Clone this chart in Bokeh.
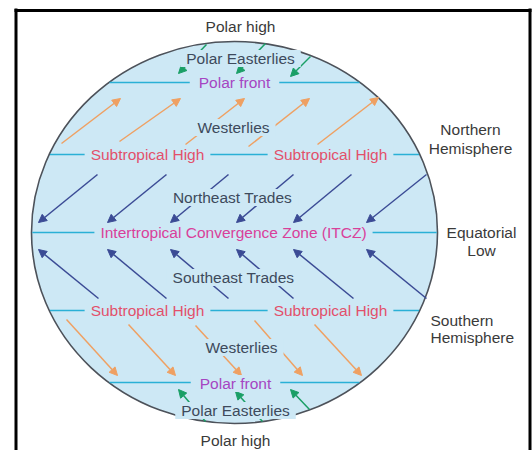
import numpy as np
from bokeh.plotting import figure
from bokeh.models import Range1d, Arrow, NormalHead, Label, ColumnDataSource
from bokeh.embed import file_html
from bokeh.resources import INLINE

W, H = 532, 450
X0, Y0 = 0, 0

# ---- globe geometry (pixel coordinates of the diagram) ----
globe_cx, globe_cy = 234, 232
globe_w, globe_h = 406, 382
lat_y = [82, 154, 232, 310, 382]          # polar front, subtropical high, ITCZ, ...

# ---- wind arrows: start (tail) -> end (head) ----
west_n_x0 = [61, 119, 185, 248, 317]
west_n_y0 = [143, 141, 144, 146, 144]
west_n_x1 = [120, 180, 244, 309, 378]
west_n_y1 = [98, 98, 98, 98, 97]

ne_x0 = [97, 166, 228, 293, 351, 426]
ne_y0 = [174, 174, 174, 174, 174, 174]
ne_x1 = [38, 107, 170, 236, 293, 366]
ne_y1 = [222, 222, 222, 222, 222, 222]

se_x0 = [98, 166, 228, 293, 353, 426]
se_y0 = [298, 298, 298, 298, 298, 298]
se_x1 = [38, 107, 170, 236, 293, 366]
se_y1 = [249, 249, 249, 249, 249, 249]

west_s_x0 = [66, 128, 195, 254, 314]
west_s_y0 = [319, 324, 325, 320, 324]
west_s_x1 = [117, 175, 241, 302, 361]
west_s_y1 = [375, 375, 375, 375, 375]

pe_n_x0 = [206, 265, 310]
pe_n_y0 = [44, 43, 56]
pe_n_x1 = [178, 236, 290]
pe_n_y1 = [73, 73, 76]

pe_s_x0 = [205, 262, 309]
pe_s_y0 = [421, 421, 409]
pe_s_x1 = [178, 235, 290]
pe_s_y1 = [389, 391, 389]

# ---- labels ----
DARK, SLATE, RED, MAG, PURP = "#3a3a3a", "#3d4a5c", "#e2506b", "#d9409a", "#a545c2"
label_text = ["Polar high", "Polar Easterlies", "Polar front", "Westerlies",
              "Subtropical High", "Subtropical High", "Northeast Trades",
              "Intertropical Convergence Zone (ITCZ)", "Southeast Trades",
              "Subtropical High", "Subtropical High", "Westerlies",
              "Polar front", "Polar Easterlies", "Polar high"]
label_x = [240, 240, 234, 233, 147, 330, 232, 233, 233, 147, 330, 241, 235, 235, 235]
label_y = [26, 58, 82, 127, 154, 154, 197, 232, 277, 310, 310, 347, 383, 410, 440]
label_color = [DARK, SLATE, PURP, SLATE, RED, RED, SLATE, MAG, SLATE, RED, RED,
               SLATE, PURP, SLATE, DARK]
label_bg = [False] + [True] * 13 + [False]
label_pad = [0, 6, 9, 6, 6, 6, 6, 6, 6, 6, 6, 6, 9, 6, 0]

side_text = ["Northern", "Hemisphere", "Equatorial", "Low", "Southern", "Hemisphere"]
side_x = [470, 470, 481, 481, 430, 430]
side_y = [129, 148, 232, 250, 320, 337]
side_align = ["center", "center", "center", "center", "left", "left"]

FILL = "#cde8f5"
CYAN = "#2ab0d6"
ORANGE = "#efa062"
NAVY = "#3b4b95"
GREEN = "#1a9f66"
FONT = "Liberation Sans"

p = figure(width=W, height=H, output_backend="svg", toolbar_location=None,
           x_range=Range1d(X0, X0 + W), y_range=Range1d(Y0 + H, Y0),
           min_border=0, outline_line_color=None)
p.axis.visible = False
p.grid.visible = False
p.background_fill_color = "white"
p.border_fill_color = "white"

# frame
p.segment(x0=[15.5, 14, 529.5], y0=[8, 10, 8], x1=[15.5, 531, 529.5], y1=[450, 10, 450],
          line_color="black", line_width=3)

# globe
p.ellipse(x=[globe_cx], y=[globe_cy], width=[globe_w], height=[globe_h],
          fill_color=FILL, line_color="#4d525a", line_width=1.6)

ly = np.array(lat_y, dtype=float)
hw = (globe_w / 2) * np.sqrt(np.clip(1 - ((ly - globe_cy) / (globe_h / 2)) ** 2, 0, 1)) - 0.8
p.segment(x0=globe_cx - hw, y0=ly, x1=globe_cx + hw, y1=ly, line_color=CYAN, line_width=1.6)


def arrows(x0, y0, x1, y1, color):
    src = ColumnDataSource(dict(x0=x0, y0=y0, x1=x1, y1=y1))
    p.add_layout(Arrow(end=NormalHead(size=8, fill_color=color, line_color=color, line_width=1),
                       x_start="x0", y_start="y0", x_end="x1", y_end="y1",
                       source=src, line_color=color, line_width=1.5))


arrows(west_n_x0, west_n_y0, west_n_x1, west_n_y1, ORANGE)
arrows(west_s_x0, west_s_y0, west_s_x1, west_s_y1, ORANGE)
arrows(ne_x0, ne_y0, ne_x1, ne_y1, NAVY)
arrows(se_x0, se_y0, se_x1, se_y1, NAVY)
arrows(pe_n_x0, pe_n_y0, pe_n_x1, pe_n_y1, GREEN)
arrows(pe_s_x0, pe_s_y0, pe_s_x1, pe_s_y1, GREEN)

for t, x, y, c, bg, pad in zip(label_text, label_x, label_y, label_color, label_bg, label_pad):
    kw = dict(background_fill_color=FILL, padding=(pad, 0)) if bg else {}
    p.add_layout(Label(x=x, y=y, text=t, text_align="center", text_baseline="middle",
                       text_color=c, text_font=FONT, text_font_size="15.5px", **kw))

for t, x, y, a in zip(side_text, side_x, side_y, side_align):
    p.add_layout(Label(x=x, y=y, text=t, text_align=a, text_baseline="middle",
                       text_color=DARK, text_font=FONT, text_font_size="15.5px"))

open("out.html", "w").write(file_html(p, INLINE))
